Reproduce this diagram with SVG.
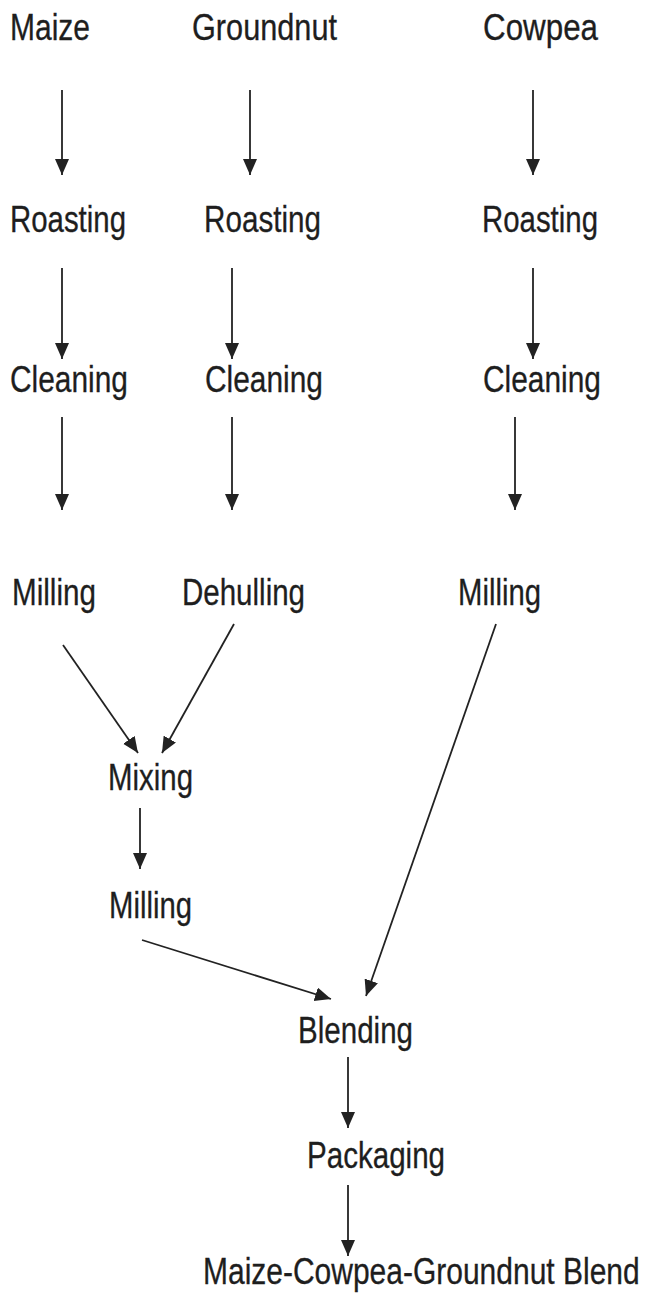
<svg xmlns="http://www.w3.org/2000/svg" width="646" height="1297" viewBox="0 0 646 1297">
  <style>
    .lbl { font-family: "Liberation Sans", Arial, sans-serif; font-size: 36px; fill: #1e1e1e; stroke: #1e1e1e; stroke-width: 0.3; }
    .edge { stroke: #222; stroke-width: 1.8; fill: none; marker-end: url(#arrow); }
  </style>
  <defs>
    <marker id="arrow" markerUnits="userSpaceOnUse" markerWidth="17" markerHeight="15" refX="16" refY="7" orient="auto">
      <path d="M0,0 L16,7 L0,14 Z" fill="#222"/>
    </marker>
  </defs>
  <rect width="646" height="1297" fill="#ffffff"/>

  <g id="n-maize"><text class="lbl" x="10" y="40" textLength="80" lengthAdjust="spacingAndGlyphs">Maize</text></g>
  <g id="n-groundnut"><text class="lbl" x="192" y="40" textLength="145" lengthAdjust="spacingAndGlyphs">Groundnut</text></g>
  <g id="n-cowpea"><text class="lbl" x="483" y="40" textLength="115" lengthAdjust="spacingAndGlyphs">Cowpea</text></g>

  <g id="n-roast1"><text class="lbl" x="10" y="232" textLength="116" lengthAdjust="spacingAndGlyphs">Roasting</text></g>
  <g id="n-roast2"><text class="lbl" x="204" y="232" textLength="117" lengthAdjust="spacingAndGlyphs">Roasting</text></g>
  <g id="n-roast3"><text class="lbl" x="482" y="232" textLength="116" lengthAdjust="spacingAndGlyphs">Roasting</text></g>

  <g id="n-clean1"><text class="lbl" x="10" y="392" textLength="118" lengthAdjust="spacingAndGlyphs">Cleaning</text></g>
  <g id="n-clean2"><text class="lbl" x="205" y="392" textLength="118" lengthAdjust="spacingAndGlyphs">Cleaning</text></g>
  <g id="n-clean3"><text class="lbl" x="483" y="392" textLength="118" lengthAdjust="spacingAndGlyphs">Cleaning</text></g>

  <g id="n-mill1"><text class="lbl" x="12" y="605" textLength="84" lengthAdjust="spacingAndGlyphs">Milling</text></g>
  <g id="n-dehull"><text class="lbl" x="182" y="605" textLength="123" lengthAdjust="spacingAndGlyphs">Dehulling</text></g>
  <g id="n-mill3"><text class="lbl" x="458" y="605" textLength="83" lengthAdjust="spacingAndGlyphs">Milling</text></g>

  <g id="n-mixing"><text class="lbl" x="108" y="790" textLength="85" lengthAdjust="spacingAndGlyphs">Mixing</text></g>
  <g id="n-mill4"><text class="lbl" x="109" y="918" textLength="83" lengthAdjust="spacingAndGlyphs">Milling</text></g>
  <g id="n-blend"><text class="lbl" x="298" y="1043" textLength="115" lengthAdjust="spacingAndGlyphs">Blending</text></g>
  <g id="n-pack"><text class="lbl" x="307" y="1168" textLength="138" lengthAdjust="spacingAndGlyphs">Packaging</text></g>
  <g id="n-final"><text class="lbl" transform="translate(203,1284) scale(0.833,1)" x="0" y="0">Maize-Cowpea-Groundnut Blend</text></g>

  <g id="connectors">
    <line class="edge" x1="62" y1="90" x2="62" y2="175"/>
    <line class="edge" x1="250" y1="90" x2="250" y2="175"/>
    <line class="edge" x1="533" y1="90" x2="533" y2="175"/>

    <line class="edge" x1="62" y1="268" x2="62" y2="359"/>
    <line class="edge" x1="232" y1="268" x2="232" y2="359"/>
    <line class="edge" x1="533" y1="268" x2="533" y2="359"/>

    <line class="edge" x1="62" y1="417" x2="62" y2="510"/>
    <line class="edge" x1="232" y1="417" x2="232" y2="510"/>
    <line class="edge" x1="515" y1="417" x2="515" y2="510"/>

    <line class="edge" x1="63" y1="645" x2="138" y2="753"/>
    <line class="edge" x1="234" y1="624" x2="162" y2="753"/>
    <line class="edge" x1="496" y1="624" x2="366" y2="996"/>

    <line class="edge" x1="140" y1="808" x2="140" y2="869"/>
    <line class="edge" x1="142" y1="940" x2="331" y2="999"/>

    <line class="edge" x1="348" y1="1057" x2="348" y2="1128"/>
    <line class="edge" x1="348" y1="1185" x2="348" y2="1256"/>
  </g>
</svg>
